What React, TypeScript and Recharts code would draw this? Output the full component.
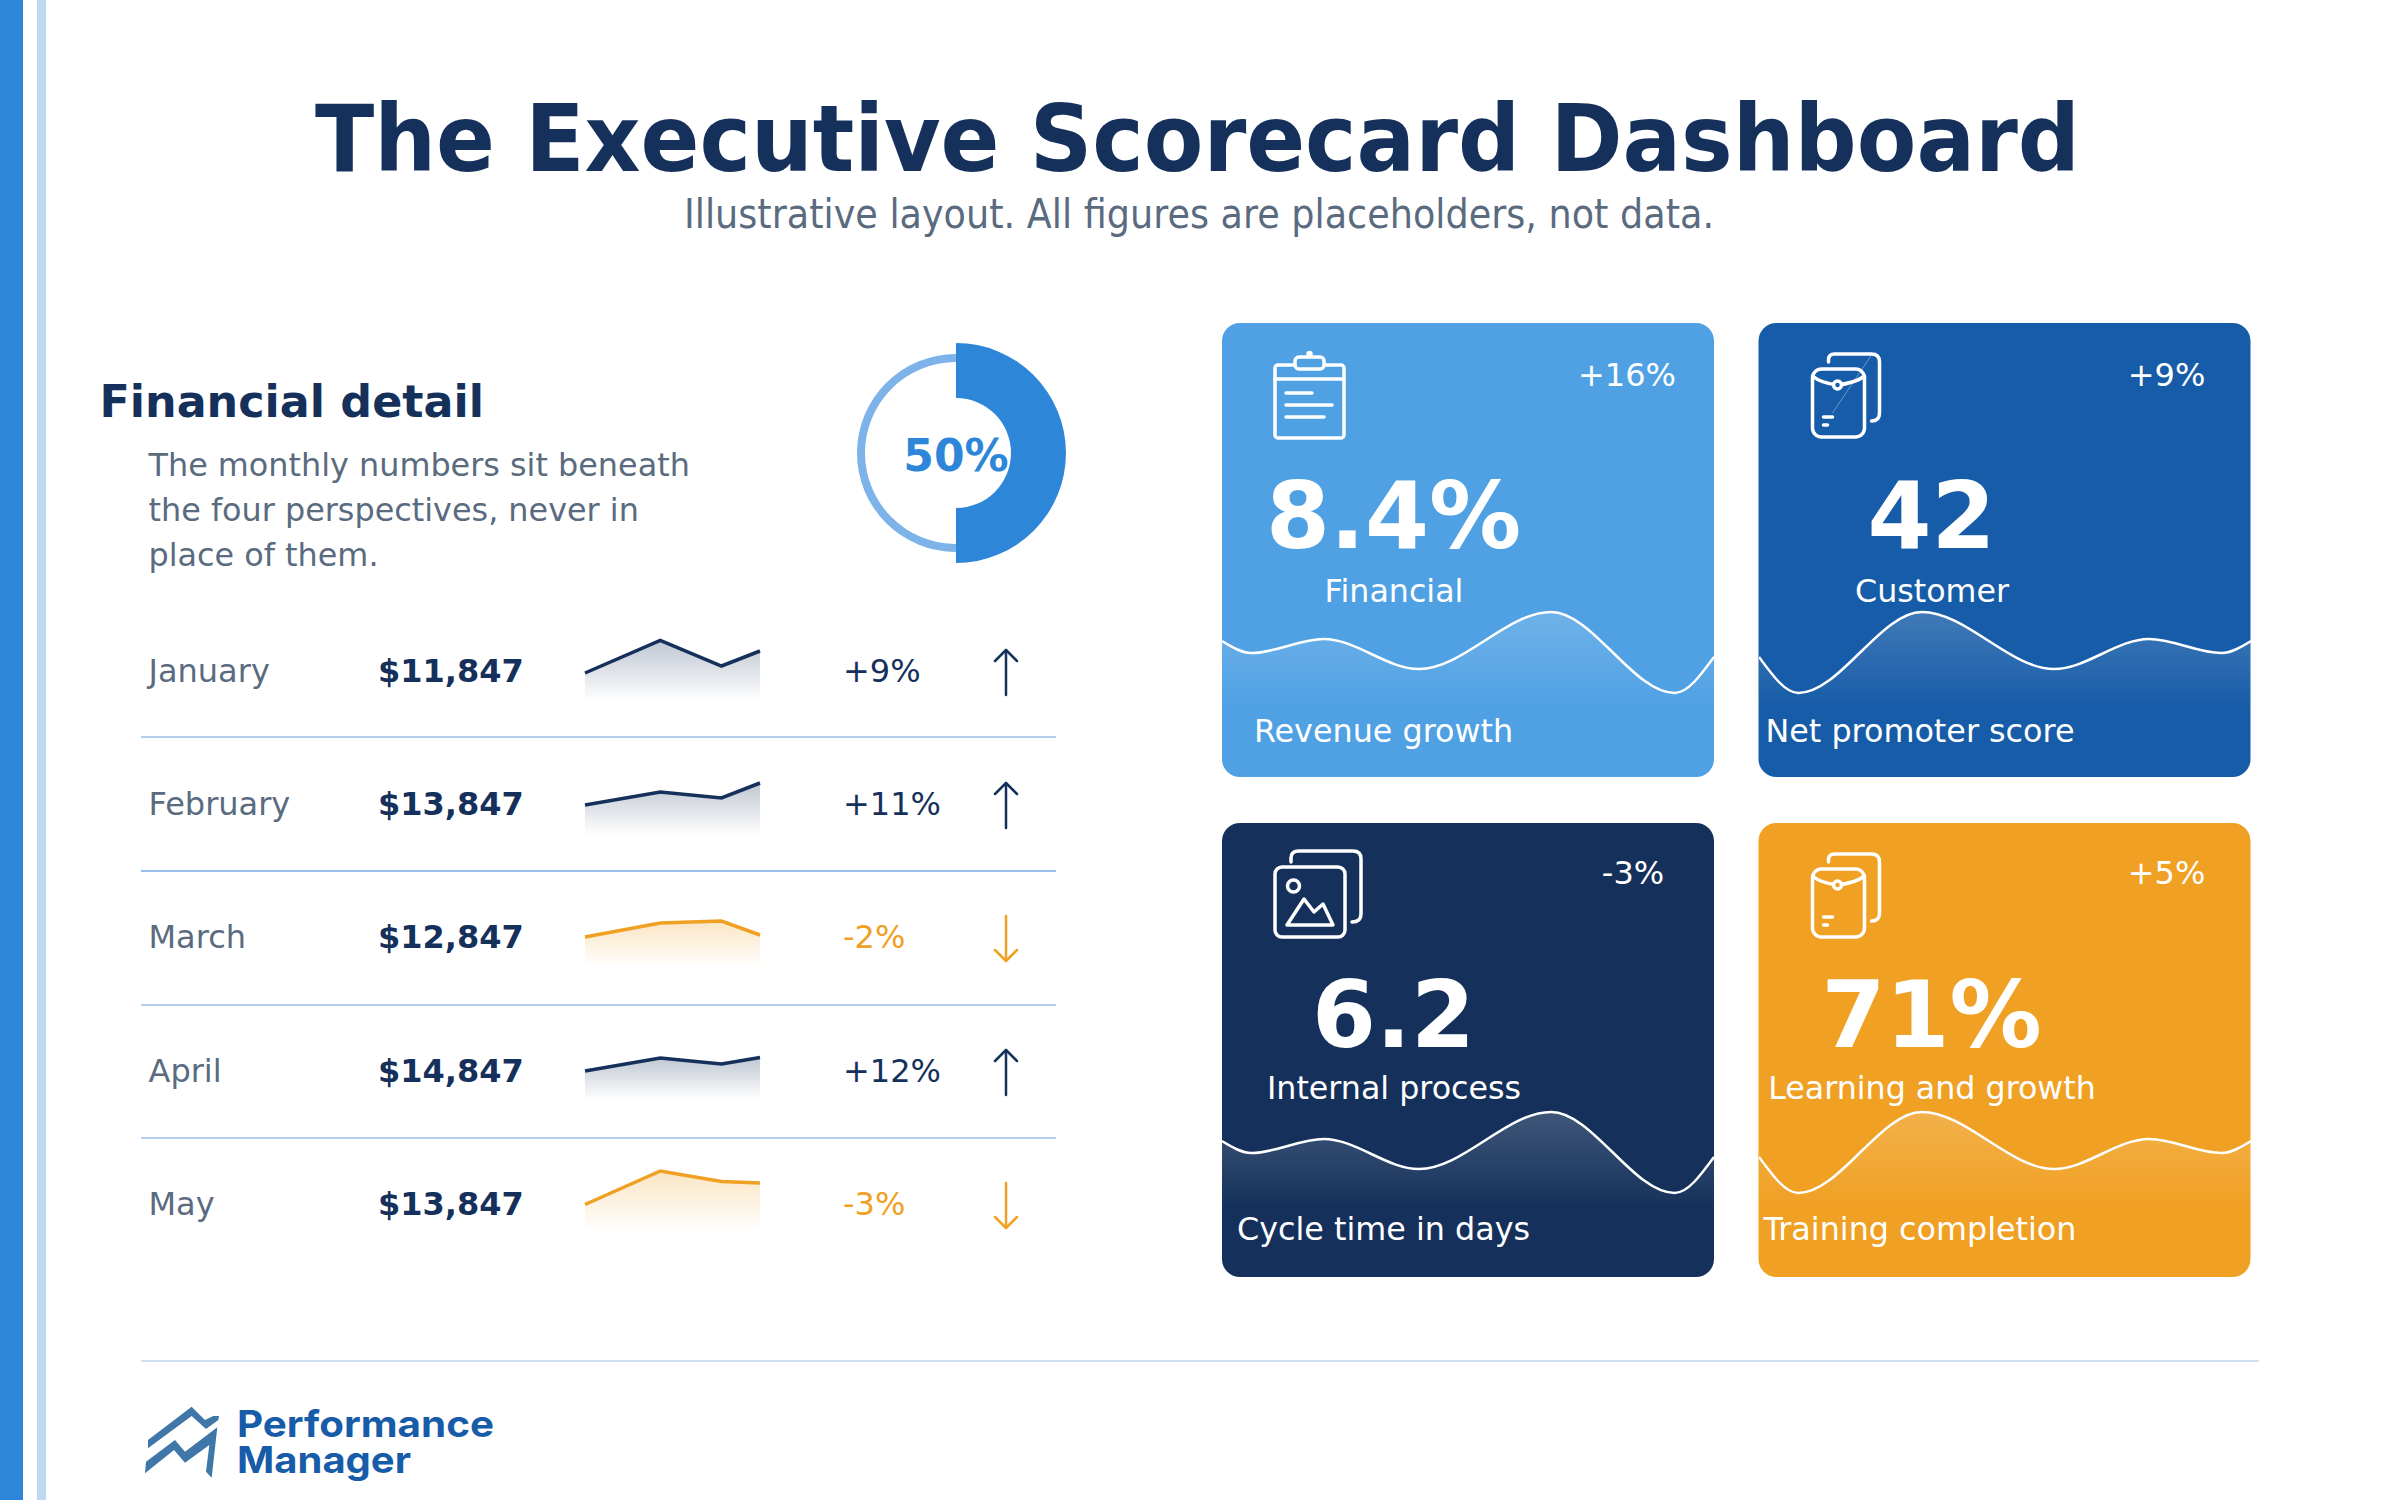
import React from 'react';
import { AreaChart, Area, XAxis, YAxis, PieChart, Pie, Cell } from 'recharts';

const NAVY = '#15315b';
const BLUE = '#175ca8';
const SKY = '#4fa1e4';
const ORANGE = '#f0a023';
const ACCENT = '#2e86d9';
const GREY = '#5a6b80';
const FONT = '"DejaVu Sans", sans-serif';

// table rows
const months = ['January', 'February', 'March', 'April', 'May'];
const amounts = ['$11,847', '$13,847', '$12,847', '$14,847', '$13,847'];
const rowDeltas = ['+9%', '+11%', '-2%', '+12%', '-3%'];
const rowUp = [true, true, false, true, false];

// sparkline readings
const sparkX = [0, 43, 78, 100];
const sparkJan = [29, 61.5, 36, 51];
const sparkFeb = [30, 43, 37, 52];
const sparkMar = [31, 45, 47, 33];
const sparkApr = [29, 42, 36, 42.5];
const sparkMay = [28.5, 62, 51.5, 50];
const sparks = [sparkJan, sparkFeb, sparkMar, sparkApr, sparkMay];

// donut
const donutDone = 50;
const donutLeft = 50;

// cards
const cardTitles = ['Financial', 'Customer', 'Internal process', 'Learning and growth'];
const cardValues = ['8.4%', '42', '6.2', '71%'];
const cardDeltas = ['+16%', '+9%', '-3%', '+5%'];
const cardCaptions = ['Revenue growth', 'Net promoter score', 'Cycle time in days', 'Training completion'];
const cardColors = [SKY, BLUE, NAVY, ORANGE];
const cardLefts = [1222, 1758.5, 1222, 1758.5];
const cardTops = [323, 323, 823, 823];

const waveXLeft = [0, 6, 20.7, 40, 66.9, 92, 100];
const waveLeft = [67, 55, 69, 39, 96, 15, 51];
const waveXRight = [0, 8, 33.1, 60, 79.3, 94, 100];
const waveRight = [51, 15, 96, 39, 69, 55, 67];

const donutData = [
  { name: 'done', value: donutDone },
  { name: 'left', value: donutLeft },
];

function Spark({ values, color, id, bottom }: { values: number[]; color: string; id: string; bottom: number }) {
  const data = sparkX.map((x, i) => ({ x, v: values[i] }));
  return (
    <div style={{ position: 'absolute', left: 582, top: bottom - 68, width: 181, height: 70 }}>
      <AreaChart width={181} height={70} data={data} margin={{ top: 4, right: 3, bottom: 2, left: 3 }}>
        <defs>
          <linearGradient id={id} x1="0" y1="0" x2="0" y2="1">
            <stop offset="0%" stopColor={color} stopOpacity={0.45} />
            <stop offset="100%" stopColor={color} stopOpacity={0} />
          </linearGradient>
        </defs>
        <XAxis dataKey="x" type="number" domain={[0, 100]} hide />
        <YAxis domain={[0, 64]} hide />
        <Area type="linear" dataKey="v" stroke={color} strokeWidth={3.5} fill={`url(#${id})`} dot={false} activeDot={false} isAnimationActive={false} />
      </AreaChart>
    </div>
  );
}

function Wave({ xs, values, id, left, top }: { xs: number[]; values: number[]; id: string; left: number; top: number }) {
  const data = xs.map((x, i) => ({ x, v: values[i] }));
  return (
    <div style={{ position: 'absolute', left, top: top + 285, width: 492, height: 100 }}>
      <AreaChart width={492} height={100} data={data} margin={{ top: 4, right: 0, bottom: 0, left: 0 }}>
        <defs>
          <linearGradient id={id} x1="0" y1="0" x2="0" y2="1">
            <stop offset="0%" stopColor="#ffffff" stopOpacity={0.3} />
            <stop offset="100%" stopColor="#ffffff" stopOpacity={0} />
          </linearGradient>
        </defs>
        <XAxis dataKey="x" type="number" domain={[0, 100]} hide />
        <YAxis domain={[0, 96]} hide />
        <Area type="monotone" dataKey="v" stroke="#ffffff" strokeWidth={2.5} fill={`url(#${id})`} dot={false} activeDot={false} isAnimationActive={false} />
      </AreaChart>
    </div>
  );
}

function ClipboardIcon() {
  return (
    <g fill="none" stroke="#fff" strokeWidth={3.5} strokeLinejoin="round" strokeLinecap="round">
      <rect x={53} y={42} width={69} height={73} rx={3} />
      <line x1={53} y1={56} x2={122} y2={56} />
      <rect x={73} y={34} width={29} height={12} rx={4} fill={SKY} />
      <circle cx={87.5} cy={31} r={1.5} fill="#fff" />
      <line x1={64} y1={70} x2={90} y2={70} />
      <line x1={64} y1={82} x2={110} y2={82} />
      <line x1={64} y1={94} x2={102} y2={94} />
    </g>
  );
}

function EnvelopeIcon({ bg, seam }: { bg: string; seam?: boolean }) {
  return (
    <g fill="none" stroke="#fff" strokeWidth={3.5} strokeLinejoin="round" strokeLinecap="round">
      {seam && <line x1={74} y1={90} x2={113} y2={32} strokeWidth={0.8} opacity={0.45} />}
      <path d="M70 39 V37 Q70 31 76 31 H113 Q121 31 121 39 V90 Q121 98 113 98" />
      <rect x={54} y={46} width={52} height={68} rx={9} />
      <path d="M54 53 Q62 60 79 62 Q97 60 106 53" />
      <circle cx={79} cy={62} r={4} fill={bg} />
      <line x1={65} y1={94} x2={74} y2={94} />
      <line x1={65} y1={102} x2={69} y2={102} />
    </g>
  );
}

function PictureIcon() {
  return (
    <g fill="none" stroke="#fff" strokeWidth={3.5} strokeLinejoin="round" strokeLinecap="round">
      <path d="M69 39 V35 Q69 28 77 28 H131 Q139 28 139 36 V91 Q139 99 130 99" />
      <rect x={53} y={44} width={70} height={70} rx={7} />
      <circle cx={71.5} cy={63} r={6} />
      <path d="M65 102 L82 76 L92 89 L101 81 L111 102 Z" />
    </g>
  );
}

function Arrow({ x, y, up, color }: { x: number; y: number; up: boolean; color: string }) {
  const tip = up ? y : y + 45;
  const tail = up ? y + 45 : y;
  const head = up ? tip + 11 : tip - 11;
  return (
    <g fill="none" stroke={color} strokeWidth={2.5} strokeLinecap="round" strokeLinejoin="round">
      <line x1={x} y1={tail} x2={x} y2={tip} />
      <polyline points={`${x - 11},${head} ${x},${tip} ${x + 11},${head}`} />
    </g>
  );
}

export default function App() {
  const rowBase = [682, 815, 948, 1082, 1215];
  const rowBottom = [702, 835, 968, 1100, 1233];
  const rules = [737, 871, 1005, 1138];
  const icons = [<ClipboardIcon />, <EnvelopeIcon bg={BLUE} seam />, <PictureIcon />, <EnvelopeIcon bg={ORANGE} />];
  return (
    <div style={{ position: 'absolute', left: 0, top: 0, width: 2400, height: 1500, background: '#fff', overflow: 'hidden', fontFamily: FONT }}>
      {/* page furniture and card backgrounds */}
      <svg width={2400} height={1500} style={{ position: 'absolute', left: 0, top: 0 }}>
        <rect x={0} y={0} width={23} height={1500} fill={ACCENT} />
        <rect x={37} y={0} width={9} height={1500} fill="#bfd9f2" />
        {rules.map((y, i) => (
          <line key={y} x1={141} x2={1056} y1={y} y2={y} stroke="#9abfe8" strokeWidth={i === 1 ? 2 : 1.5} />
        ))}
        <line x1={141} x2={2259} y1={1361} y2={1361} stroke="#cfe0f3" strokeWidth={2} />
        {cardColors.map((c, i) => (
          <rect key={c} x={cardLefts[i]} y={cardTops[i]} width={492} height={454} rx={18} fill={c} />
        ))}
      </svg>

      {sparks.map((values, i) => (
        <Spark key={months[i]} values={values} color={rowUp[i] ? NAVY : ORANGE} id={`spark${i}`} bottom={rowBottom[i]} />
      ))}

      <Wave xs={waveXLeft} values={waveLeft} id="wave0" left={cardLefts[0]} top={cardTops[0]} />
      <Wave xs={waveXRight} values={waveRight} id="wave1" left={cardLefts[1]} top={cardTops[1]} />
      <Wave xs={waveXLeft} values={waveLeft} id="wave2" left={cardLefts[2]} top={cardTops[2]} />
      <Wave xs={waveXRight} values={waveRight} id="wave3" left={cardLefts[3]} top={cardTops[3]} />

      <div style={{ position: 'absolute', left: 836, top: 333, width: 240, height: 240 }}>
        <PieChart width={240} height={240} margin={{ top: 0, right: 0, bottom: 0, left: 0 }}>
          <Pie data={donutData} dataKey="value" cx={120} cy={120} startAngle={90} endAngle={-270} innerRadius={91} outerRadius={99} stroke="none" isAnimationActive={false}>
            <Cell fill="transparent" />
            <Cell fill="#7db3e8" />
          </Pie>
          <Pie data={donutData} dataKey="value" cx={120} cy={120} startAngle={90} endAngle={-270} innerRadius={55} outerRadius={110} stroke="none" isAnimationActive={false}>
            <Cell fill={ACCENT} />
            <Cell fill="transparent" />
          </Pie>
        </PieChart>
      </div>

      {/* text and icons */}
      <svg width={2400} height={1500} style={{ position: 'absolute', left: 0, top: 0 }} fontFamily={FONT}>
        <text x={315} y={171} fontSize={92} fontWeight={700} fill={NAVY} textLength={1765} lengthAdjust="spacingAndGlyphs">The Executive Scorecard Dashboard</text>
        <text x={684} y={228} fontSize={40} fill={GREY} textLength={1030} lengthAdjust="spacingAndGlyphs">Illustrative layout. All figures are placeholders, not data.</text>

        <text x={99.5} y={417} fontSize={44.4} fontWeight={700} fill={NAVY}>Financial detail</text>
        <text x={148.5} y={476} fontSize={31.85} fill={GREY}>The monthly numbers sit beneath</text>
        <text x={148.5} y={521} fontSize={31.85} fill={GREY}>the four perspectives, never in</text>
        <text x={148.5} y={566} fontSize={31.85} fill={GREY}>place of them.</text>
        <text x={956} y={471} textAnchor="middle" fontSize={44} fontWeight={700} fill={ACCENT}>50%</text>

        {months.map((m, i) => {
          const color = rowUp[i] ? NAVY : ORANGE;
          return (
            <g key={m}>
              <text x={148.5} y={rowBase[i]} fontSize={32} fill={GREY}>{m}</text>
              <text x={378} y={rowBase[i]} fontSize={32} fontWeight={700} fill={NAVY}>{amounts[i]}</text>
              <text x={843} y={rowBase[i]} fontSize={32} fill={color}>{rowDeltas[i]}</text>
              <Arrow x={1006} y={rowBase[i] - 32} up={rowUp[i]} color={color} />
            </g>
          );
        })}

        {cardTitles.map((t, i) => {
          const x = cardLefts[i];
          const y = cardTops[i];
          const low = i > 1 ? 1 : 0;
          const right = i % 2;
          return (
            <g key={t} fill="#fff">
              <g transform={`translate(${x} ${y})`}>{icons[i]}</g>
              <text x={x + 405 + (i === 2 ? 6 : right ? 3 : 0)} y={y + 63 - low * 2} textAnchor="middle" fontSize={32}>{cardDeltas[i]}</text>
              <text x={x + 171.5 + right * 1.5} y={y + 225 - low} textAnchor="middle" fontSize={92} fontWeight={700}>{cardValues[i]}</text>
              <text x={x + 172 + right * 1.5} y={y + 279 - low * 3} textAnchor="middle" fontSize={31.7}>{t}</text>
              <text x={x + 161.5} y={y + 419 - low * 2} textAnchor="middle" fontSize={31.8}>{cardCaptions[i]}</text>
            </g>
          );
        })}

        {/* logo */}
        <g transform="translate(120 1340) scale(0.3333)" fill="#3f77a8">
          <polygon points="84,325 84,300 215,200 255,240 280,228 297,228 295,240 258,267 215,228" />
          <polygon points="75,400 78,365 165,300 195,335 292,262 275,413 258,395 268,315 195,368 162,330" />
        </g>
        <text x={237} y={1437} fontFamily="Inter, sans-serif" fontSize={37} fontWeight={700} fill={BLUE} textLength={257} lengthAdjust="spacingAndGlyphs">Performance</text>
        <text x={237} y={1473} fontFamily="Inter, sans-serif" fontSize={37} fontWeight={700} fill={BLUE} textLength={174} lengthAdjust="spacingAndGlyphs">Manager</text>
      </svg>
    </div>
  );
}
